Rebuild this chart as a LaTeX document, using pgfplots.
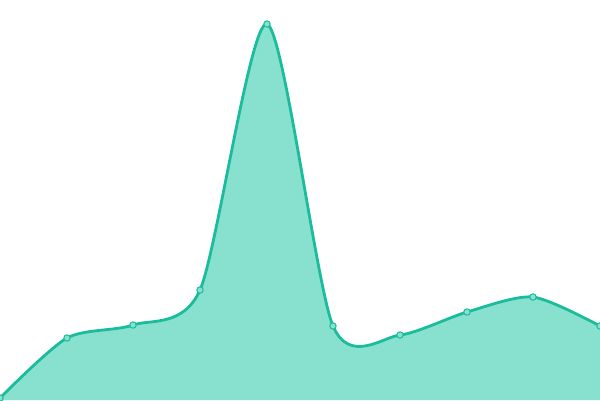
\documentclass[border=0pt]{standalone}
\usepackage{pgfplots}
\pgfplotsset{compat=1.18}
\definecolor{lineC}{HTML}{1ABC9C}
\definecolor{fillC}{HTML}{88E0CE}
\begin{document}
\begin{tikzpicture}
\begin{axis}[
  scale only axis, width=600pt, height=400pt,
  xmin=0, xmax=600, ymin=0, ymax=400,
  hide axis, clip=true, clip marker paths=true,
]
\addplot[draw=none, fill=fillC, smooth, tension=0.45] coordinates {
(0,2) (67,62) (133,75) (200,110) (267,376) (333,74) (400,65) (467,88) (533,103) (600,74)
} \closedcycle;
\addplot[lineC, line width=2.8pt, smooth, tension=0.45, mark=*, mark size=3.2pt,
  mark options={fill=fillC, draw=lineC, line width=1pt}] coordinates {
(0,2) (67,62) (133,75) (200,110) (267,376) (333,74) (400,65) (467,88) (533,103) (600,74)
};
\end{axis}
\pgfresetboundingbox
\path[use as bounding box] (current axis.south west) rectangle (current axis.north east);
\end{tikzpicture}
\end{document}
